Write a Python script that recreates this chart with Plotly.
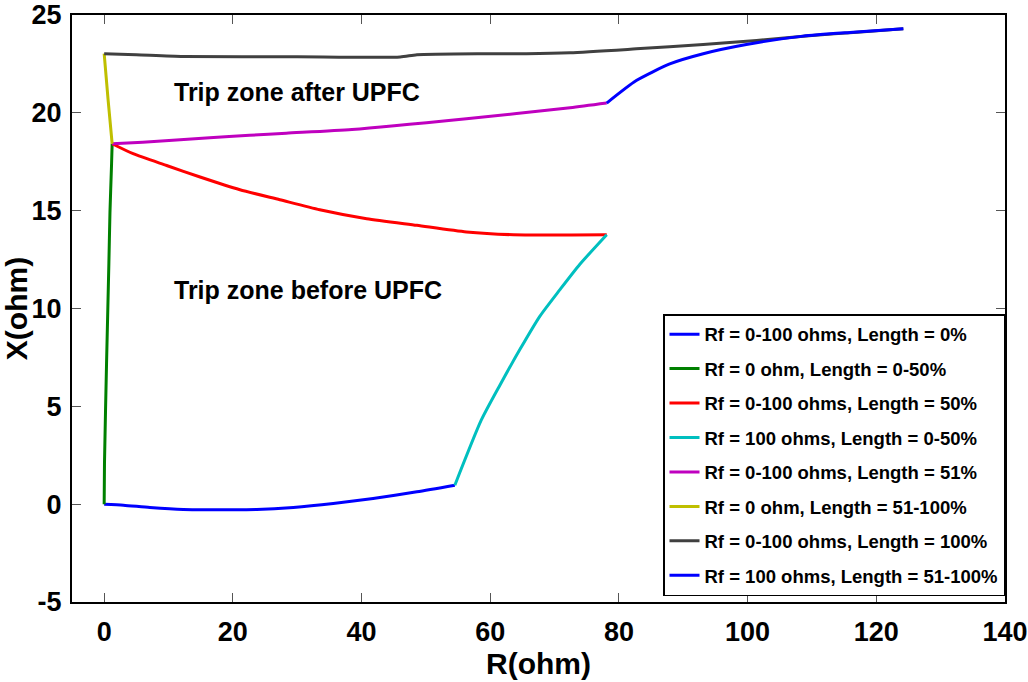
import plotly.graph_objects as go

# ---- data (R in ohm, X in ohm) ----
blue1_r = [0, 3, 7.1, 12.3, 23.7, 29.4, 35.6, 41.8, 48.6, 54.5]
blue1_x = [0, -0.05, -0.17, -0.27, -0.27, -0.17, 0.03, 0.29, 0.63, 0.97]

green_r = [0, 0.05, 0.37, 0.73, 0.9, 1.15, 1.24]
green_x = [0, 2.1, 7.2, 12.3, 14.9, 17.4, 18.42]

red_r = [1.24, 4.5, 9.7, 14.9, 21.1, 27.3, 33.5, 40.8, 48.6, 56.3, 63.6, 78.1]
red_x = [18.42, 17.91, 17.31, 16.72, 16.07, 15.56, 15.05, 14.59, 14.25, 13.91, 13.77, 13.77]

cyan_r = [54.5, 58.6, 61.5, 64.6, 67.7, 70.8, 73.9, 78.1]
cyan_x = [0.97, 4.29, 6.08, 7.9, 9.6, 10.95, 12.25, 13.77]

mag_r = [1.24, 6, 16.4, 22.6, 28.3, 38.5, 56.3, 72.4, 78.1]
mag_x = [18.42, 18.5, 18.73, 18.85, 18.96, 19.15, 19.7, 20.26, 20.5]

yel_r = [0, 0.6, 1.24]
yel_x = [23.02, 20.7, 18.42]

gray_r = [0, 5, 12.3, 30, 46, 48.6, 58.9, 65.6, 72.4, 82.7, 93.1, 101.4, 110, 117, 124.2]
gray_x = [23.02, 22.97, 22.88, 22.86, 22.85, 22.97, 23.02, 23.02, 23.07, 23.27, 23.49, 23.7, 23.95, 24.12, 24.3]

blue2_r = [78.1, 82.7, 87.9, 93.1, 99.8, 108.6, 116.4, 124.2]
blue2_x = [20.5, 21.65, 22.5, 23.02, 23.49, 23.92, 24.12, 24.3]

names = [
    "Rf = 0-100 ohms, Length = 0%",
    "Rf = 0 ohm, Length = 0-50%",
    "Rf = 0-100 ohms, Length = 50%",
    "Rf = 100 ohms, Length = 0-50%",
    "Rf = 0-100 ohms, Length = 51%",
    "Rf = 0 ohm, Length = 51-100%",
    "Rf = 0-100 ohms, Length = 100%",
    "Rf = 100 ohms, Length = 51-100%",
]
colors = ["#0000FF", "#008000", "#FF0000", "#00BFBF", "#BF00BF", "#BFBF00", "#404040", "#0000FF"]
series = [(blue1_r, blue1_x), (green_r, green_x), (red_r, red_x), (cyan_r, cyan_x),
          (mag_r, mag_x), (yel_r, yel_x), (gray_r, gray_x), (blue2_r, blue2_x)]

x_ticks = [0, 20, 40, 60, 80, 100, 120, 140]
y_ticks = [-5, 0, 5, 10, 15, 20, 25]

FONT = "Liberation Sans, Arial, sans-serif"

fig = go.Figure()
for i, ((r, x), n, c) in enumerate(zip(series, names, colors)):
    fig.add_trace(go.Scatter(x=r, y=x, mode="lines", name=n, legendgroup=str(i),
                             line=dict(color=c, width=3, shape="spline", smoothing=0.6)))

axis_common = dict(showgrid=False, zeroline=False, showline=True, linecolor="black",
                   linewidth=2, mirror="allticks", ticks="inside", ticklen=9,
                   tickcolor="#555555", tickwidth=1, automargin=False,
                   tickfont=dict(family=FONT, size=27, color="black", weight="bold"))

fig.update_xaxes(range=[-5.0001, 140.0001], tickvals=x_ticks, ticktext=[str(v) for v in x_ticks],
                 title=dict(text="R(ohm)", font=dict(family=FONT, size=30, color="black", weight="bold"),
                            standoff=2),
                 ticklabelstandoff=5, **axis_common)
fig.update_yaxes(range=[-5.0001, 25.0001], tickvals=y_ticks, ticktext=[str(v) for v in y_ticks],
                 title=dict(text="X(ohm)", font=dict(family=FONT, size=30, color="black", weight="bold"),
                            standoff=4),
                 ticklabelstandoff=3, **axis_common)

fig.add_annotation(x=10.5, y=21.04, xref="x", yref="y", text="Trip zone after UPFC",
                   showarrow=False, xanchor="left", yanchor="middle",
                   font=dict(family=FONT, size=25, color="black", weight="bold"))
fig.add_annotation(x=10.5, y=10.93, xref="x", yref="y", text="Trip zone before UPFC",
                   showarrow=False, xanchor="left", yanchor="middle",
                   font=dict(family=FONT, size=25, color="black", weight="bold"))

fig.update_layout(
    width=1028, height=682,
    margin=dict(l=72, r=23, t=15, b=80),
    paper_bgcolor="white", plot_bgcolor="white",
    legend=dict(x=1, y=0.01, xanchor="right", yanchor="bottom",
                bordercolor="black", borderwidth=1.5, bgcolor="white",
                font=dict(family=FONT, size=18.5, color="black", weight="bold"),
                tracegroupgap=7.4),
)

fig.write_html("out.html")
